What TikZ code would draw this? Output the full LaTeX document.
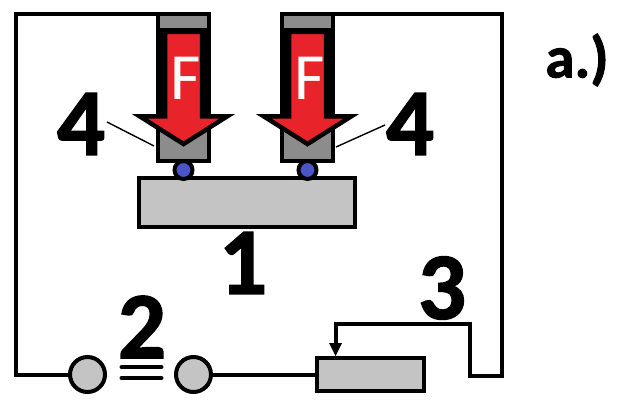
\documentclass[tikz,border=0pt]{standalone}
\usepackage{fontspec}
\setmainfont{Carlito}
\newfontfamily\numf[BoldFont=*,BoldFeatures={FakeBold=1.6}]{Carlito Bold}
\usetikzlibrary{arrows.meta}
\definecolor{darkgr}{HTML}{8C8C8C}
\definecolor{lightgr}{HTML}{C4C4C4}
\definecolor{forcered}{HTML}{E8242A}
\definecolor{ballblue}{HTML}{4A55C8}
\tikzset{
  wire/.style={draw=black,line width=4pt,line join=miter},
  termnode/.style={circle,draw=black,line width=4pt,fill=lightgr,minimum size=35pt,inner sep=0pt},
  boxnode/.style={rectangle,draw=black,line width=4pt,fill=lightgr,inner sep=0pt},
  ballnode/.style={circle,draw=black,line width=4pt,fill=ballblue,minimum size=18pt,inner sep=0pt},
  numlabel/.style={font=\fontsize{95}{95}\selectfont\numf\bfseries,text=black,inner sep=0pt},
  flabel/.style={font=\fontsize{66}{66}\selectfont,text=white,inner sep=0pt},
  leader/.style={draw=black,line width=1.4pt},
  arrowshape/.style={draw=black,line width=4.5pt,fill=forcered,line join=miter,miter limit=10},
  electrode/.style={draw=black,line width=4pt,fill=darkgr},
}
\newcommand{\electrodeat}[2]{%
  \begin{scope}[shift={(#1,0)}]
    \draw[electrode] (-25.5,14.5) rectangle (25.5,161);
    \fill[black] (-27,28) rectangle (27,118);
    \draw[arrowshape] (-18.5,32) -- (18.5,32) -- (18.5,116.5) -- (43.5,116.5) -- (0,144) -- (-43.5,116.5) -- (-18.5,116.5) -- cycle;
    \node[flabel] (#2) at (2.5,78) {F};
  \end{scope}}
\begin{document}
\begin{tikzpicture}[x=1pt,y=-1pt]
\useasboundingbox (0,0) rectangle (631,406);
\fill[white] (0,0) rectangle (631,406);
% circuit corners
\coordinate (tl) at (15.5,14.5);
\coordinate (bl) at (15.5,374.5);
\coordinate (tr) at (501.5,14.5);
\coordinate (br) at (501.5,376);
\coordinate (sb) at (469.5,376);
\coordinate (st) at (469.5,324);
\coordinate (sl) at (335.5,324);
\coordinate (sa) at (335.5,345);
\coordinate (eL) at (170,14.5);
\coordinate (eR) at (295,14.5);
\node[termnode] (t1) at (87.5,374.5) {};
\node[termnode] (t2) at (193.5,374.5) {};
\node[boxnode,minimum width=107pt,minimum height=33pt] (rh) at (370.5,374.5) {};
\draw[wire] (eL) -- (tl) -- (bl) -- (t1.west);
\draw[wire] (t2.east) -- (rh.west);
\draw[wire] (eR) -- (tr) -- (br) -- (sb) -- (st) -- (sl) -- (sa);
\fill[black] (335.5,356) -- (329,343) -- (342,343) -- cycle;
% electrodes
\electrodeat{183.5}{f1}
\electrodeat{307.5}{f2}
% workpiece
\node[boxnode,minimum width=216pt,minimum height=49pt] (wp) at (247,202.5) {};
\node[ballnode] (b1) at (183.5,170) {};
\node[ballnode] (b2) at (307.5,170) {};
% switch bars
\coordinate (ba) at (121.5,367);
\coordinate (bb) at (161.5,367);
\coordinate (bc) at (121.5,378);
\coordinate (bd) at (161.5,378);
\draw[wire,line cap=round] (ba) -- (bb);
\draw[wire,line cap=round] (bc) -- (bd);
% labels
\node[numlabel] (n4a) at (81,124) {4};
\node[numlabel] (n4b) at (410,124) {4};
\node[numlabel] (n1) at (243,263) {1};
\node[numlabel] (n2) at (142,327) {2};
\node[numlabel] (n3) at (442,288) {3};
\node[font=\fontsize{59}{59}\selectfont\numf\bfseries,inner sep=0pt] (nA) at (577,60) {a.)};
\coordinate (l1) at (107,122);
\coordinate (l2) at (154,146);
\coordinate (l3) at (385,125);
\coordinate (l4) at (336,147);
\draw[leader] (l1) -- (l2);
\draw[leader] (l3) -- (l4);
\end{tikzpicture}
\end{document}
